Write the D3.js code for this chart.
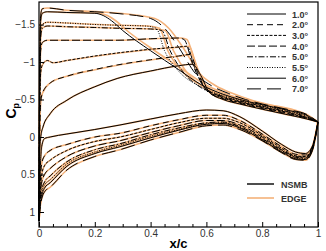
<!DOCTYPE html>
<html><head><meta charset="utf-8">
<script src="https://cdn.jsdelivr.net/npm/d3@7"></script>
<style>body{margin:0;background:#fff}svg{display:block}</style>
</head><body>
<svg id="c" width="326" height="251"></svg>
<script>
// ---- data ----
const angles = ["1.0°","2.0°","3.0°","4.0°","5.0°","5.5°","6.0°","7.0°"];
const dashes = ["", "6,4", "3,1.5", "8,3", "6,2,1.5,2", "1,1.5", "", "14,6"];
const xTicks = [0,0.2,0.4,0.6,0.8,1];
const yTicks = [-1.5,-1,-0.5,0,0.5,1];
const solvers = ["NSMB","EDGE"];

// upper surface, NSMB
const up1 = [[0,1.12],[0.001,0.6],[0.003,0.15],[0.007,-0.02],[0.014,-0.13],[0.04,-0.31],[0.1,-0.49],[0.2,-0.67],[0.28,-0.78],[0.4,-0.88],[0.5,-0.95],[0.55,-0.97],[0.58,-0.82],[0.61,-0.6],[0.66,-0.5],[0.72,-0.44],[0.8,-0.37],[0.9,-0.29],[0.96,-0.24],[1.0,-0.2]];
const up2 = [[0,1.12],[0.001,0.5],[0.003,-0.1],[0.006,-0.45],[0.012,-0.58],[0.04,-0.72],[0.1,-0.81],[0.2,-0.9],[0.28,-0.96],[0.4,-1.03],[0.5,-1.08],[0.54,-1.1],[0.57,-0.85],[0.6,-0.62],[0.66,-0.51],[0.72,-0.45],[0.8,-0.38],[0.9,-0.3],[0.96,-0.25],[1.0,-0.2]];
const up3 = [[0,1.12],[0.001,0.4],[0.003,-0.4],[0.006,-0.85],[0.012,-0.96],[0.03,-1.02],[0.05,-0.99],[0.1,-1.02],[0.2,-1.08],[0.28,-1.12],[0.4,-1.17],[0.5,-1.2],[0.53,-1.21],[0.56,-0.9],[0.6,-0.63],[0.66,-0.52],[0.72,-0.46],[0.8,-0.39],[0.9,-0.31],[0.96,-0.25],[1.0,-0.2]];
const up4 = [[0,1.12],[0.001,0.3],[0.003,-0.6],[0.006,-1.15],[0.012,-1.26],[0.03,-1.29],[0.1,-1.29],[0.2,-1.29],[0.28,-1.29],[0.4,-1.31],[0.5,-1.32],[0.52,-1.3],[0.55,-0.98],[0.59,-0.68],[0.66,-0.53],[0.72,-0.47],[0.8,-0.4],[0.9,-0.32],[0.96,-0.26],[1.0,-0.2]];
const up5 = [[0,1.12],[0.001,0.2],[0.003,-0.8],[0.006,-1.33],[0.012,-1.45],[0.03,-1.48],[0.1,-1.47],[0.2,-1.46],[0.28,-1.45],[0.4,-1.44],[0.44,-1.42],[0.47,-1.15],[0.52,-0.85],[0.58,-0.66],[0.66,-0.54],[0.72,-0.48],[0.8,-0.41],[0.9,-0.33],[0.96,-0.27],[1.0,-0.2]];
const up6 = [[0,1.12],[0.001,0.1],[0.003,-0.9],[0.006,-1.4],[0.012,-1.5],[0.03,-1.53],[0.1,-1.52],[0.2,-1.5],[0.28,-1.49],[0.38,-1.48],[0.42,-1.45],[0.45,-1.15],[0.5,-0.88],[0.58,-0.67],[0.66,-0.55],[0.72,-0.49],[0.8,-0.42],[0.9,-0.34],[0.96,-0.28],[1.0,-0.2]];
const up7 = [[0,1.12],[0.001,0.0],[0.003,-1.0],[0.006,-1.55],[0.012,-1.65],[0.03,-1.67],[0.1,-1.66],[0.2,-1.65],[0.23,-1.62],[0.26,-1.55],[0.3,-1.42],[0.4,-1.15],[0.5,-0.9],[0.58,-0.7],[0.66,-0.57],[0.72,-0.5],[0.8,-0.43],[0.9,-0.35],[0.96,-0.29],[1.0,-0.2]];
const up8 = [[0,1.12],[0.001,-0.1],[0.003,-1.1],[0.006,-1.63],[0.012,-1.71],[0.03,-1.72],[0.1,-1.69],[0.2,-1.67],[0.3,-1.64],[0.4,-1.58],[0.45,-1.45],[0.5,-1.2],[0.56,-0.85],[0.62,-0.68],[0.68,-0.58],[0.74,-0.5],[0.8,-0.44],[0.9,-0.36],[0.96,-0.3],[1.0,-0.2]];

// lower surface, NSMB
const lo1 = [[0,1.12],[0.004,0.5],[0.01,0.12],[0.02,0.02],[0.04,0.0],[0.1,-0.04],[0.2,-0.1],[0.29,-0.16],[0.4,-0.24],[0.5,-0.31],[0.6,-0.36],[0.66,-0.35],[0.72,-0.27],[0.8,-0.08],[0.87,0.1],[0.92,0.2],[0.955,0.22],[0.98,0.12],[1.0,-0.2]];
const lo2 = [[0,1.12],[0.004,0.65],[0.01,0.35],[0.02,0.25],[0.04,0.18],[0.1,0.1],[0.2,0.0],[0.29,-0.05],[0.4,-0.15],[0.5,-0.23],[0.6,-0.29],[0.66,-0.29],[0.72,-0.22],[0.8,-0.04],[0.87,0.13],[0.92,0.23],[0.955,0.24],[0.98,0.13],[1.0,-0.2]];
const lo3 = [[0,1.12],[0.004,0.75],[0.01,0.5],[0.02,0.38],[0.04,0.31],[0.1,0.18],[0.2,0.06],[0.29,0.0],[0.4,-0.1],[0.5,-0.19],[0.6,-0.25],[0.66,-0.25],[0.72,-0.19],[0.8,-0.02],[0.87,0.15],[0.92,0.25],[0.955,0.26],[0.98,0.14],[1.0,-0.2]];
const lo4 = [[0,1.12],[0.004,0.82],[0.01,0.6],[0.02,0.5],[0.04,0.42],[0.1,0.26],[0.2,0.12],[0.29,0.05],[0.4,-0.06],[0.5,-0.15],[0.6,-0.22],[0.66,-0.22],[0.72,-0.16],[0.8,0.0],[0.87,0.17],[0.92,0.26],[0.955,0.27],[0.98,0.15],[1.0,-0.2]];
const lo5 = [[0,1.12],[0.004,0.88],[0.01,0.7],[0.02,0.6],[0.04,0.52],[0.1,0.33],[0.2,0.17],[0.29,0.09],[0.4,-0.03],[0.5,-0.12],[0.6,-0.19],[0.66,-0.2],[0.72,-0.14],[0.8,0.02],[0.87,0.18],[0.92,0.27],[0.955,0.28],[0.98,0.16],[1.0,-0.2]];
const lo6 = [[0,1.12],[0.004,0.9],[0.01,0.74],[0.02,0.64],[0.04,0.57],[0.1,0.36],[0.2,0.2],[0.29,0.11],[0.4,-0.01],[0.5,-0.1],[0.6,-0.18],[0.66,-0.19],[0.72,-0.13],[0.8,0.03],[0.87,0.19],[0.92,0.28],[0.955,0.29],[0.98,0.16],[1.0,-0.2]];
const lo7 = [[0,1.12],[0.004,0.92],[0.01,0.78],[0.02,0.68],[0.04,0.61],[0.1,0.39],[0.2,0.22],[0.29,0.13],[0.4,0.01],[0.5,-0.09],[0.6,-0.17],[0.66,-0.18],[0.72,-0.12],[0.8,0.04],[0.87,0.2],[0.92,0.29],[0.955,0.3],[0.98,0.17],[1.0,-0.2]];
const lo8 = [[0,1.12],[0.004,0.94],[0.01,0.82],[0.02,0.73],[0.04,0.67],[0.1,0.44],[0.2,0.26],[0.29,0.17],[0.4,0.04],[0.5,-0.06],[0.6,-0.15],[0.66,-0.16],[0.72,-0.1],[0.8,0.05],[0.87,0.21],[0.92,0.3],[0.955,0.31],[0.98,0.18],[1.0,-0.2]];

const upper = [up1,up2,up3,up4,up5,up6,up7,up8];
const lower = [lo1,lo2,lo3,lo4,lo5,lo6,lo7,lo8];
// EDGE: shock shifted slightly aft
const shockShift = [0.0,0.005,0.008,0.01,0.012,0.012,0.015,0.015];

// ---- chart ----
const svg = d3.select("#c");
const m = {l:39, r:8, t:2, b:24};
const W = 326, H = 251;
const x = d3.scaleLinear().domain([0,1]).range([m.l, W-m.r]);
const y = d3.scaleLinear().domain([-1.8,1.2]).range([m.t, H-m.b]);
const line = d3.line().x(d=>x(d[0])).y(d=>y(d[1])).curve(d3.curveMonotoneX);

const g = svg.append("g");
upper.forEach((arr,i)=>{
  const e = arr.map(p=> (p[0]>0.15 && p[0]<0.95) ? [p[0]+shockShift[i], p[1]] : p);
  g.append("path").attr("d", line(e)).attr("fill","none").attr("stroke","#f4b27a").attr("stroke-width",1.6);
});
lower.forEach((arr,i)=>{
  g.append("path").attr("d", line(arr)).attr("fill","none").attr("stroke","#f4b27a").attr("stroke-width",1.6);
});
upper.forEach((arr,i)=>{
  g.append("path").attr("d", line(arr)).attr("fill","none").attr("stroke","#000").attr("stroke-width",1)
   .attr("stroke-dasharray", dashes[i]||null);
});
lower.forEach((arr,i)=>{
  g.append("path").attr("d", line(arr)).attr("fill","none").attr("stroke","#000").attr("stroke-width",1)
   .attr("stroke-dasharray", dashes[i]||null);
});

svg.append("rect").attr("x",m.l).attr("y",m.t).attr("width",W-m.r-m.l).attr("height",H-m.b-m.t)
  .attr("fill","none").attr("stroke","#000").attr("stroke-width",1.2);

const font = "'Liberation Sans', Arial, sans-serif";
const xAxis = d3.axisBottom(x).tickValues(xTicks).tickSize(-5).tickPadding(3).tickFormat(d=>d3.format("~g")(d));
svg.append("g").attr("transform",`translate(0,${H-m.b})`).call(xAxis);
const xMinor = d3.axisBottom(x).tickValues(d3.range(0,1.0001,0.05).filter(v=>Math.abs(v*5-Math.round(v*5))>1e-6)).tickSize(-3).tickFormat("");
svg.append("g").attr("transform",`translate(0,${H-m.b})`).call(xMinor);
const yAxis = d3.axisLeft(y).tickValues(yTicks).tickSize(-5).tickPadding(4).tickFormat(d=>d3.format("~g")(d));
svg.append("g").attr("transform",`translate(${m.l},0)`).call(yAxis);
svg.selectAll(".domain").remove();
svg.selectAll(".tick text").attr("font-family",font).attr("font-size",10).attr("fill","#333");
svg.selectAll(".tick line").attr("stroke","#000");

svg.append("text").attr("x",x(0.5)).attr("y",248).attr("text-anchor","middle")
  .attr("font-family",font).attr("font-weight","bold").attr("font-size",13).text("x/c");
const yl = svg.append("text").attr("transform",`translate(16,${y(-0.35)}) rotate(-90)`).attr("text-anchor","middle")
  .attr("font-family",font).attr("font-weight","bold").attr("font-size",14);
yl.append("tspan").text("C");
yl.append("tspan").attr("font-size",9).attr("dy",3).text("p");

const lg = svg.append("g");
angles.forEach((a,i)=>{
  const yy = 14 + i*10.7;
  lg.append("line").attr("x1",247).attr("x2",286).attr("y1",yy).attr("y2",yy)
    .attr("stroke","#000").attr("stroke-width",1).attr("stroke-dasharray",dashes[i]||null);
  lg.append("text").attr("x",292).attr("y",yy+3.5).attr("font-family",font).attr("font-weight","bold")
    .attr("font-size",9).attr("fill","#333").text(a);
});
const sc = ["#000","#f4b27a"];
solvers.forEach((s,i)=>{
  const yy = 184 + i*14;
  lg.append("line").attr("x1",247).attr("x2",274).attr("y1",yy).attr("y2",yy)
    .attr("stroke",sc[i]).attr("stroke-width",i?1.6:1.4);
  lg.append("text").attr("x",281).attr("y",yy+3.5).attr("font-family",font).attr("font-weight","bold")
    .attr("font-size",9).attr("fill","#333").text(s);
});
</script>
</body></html>
